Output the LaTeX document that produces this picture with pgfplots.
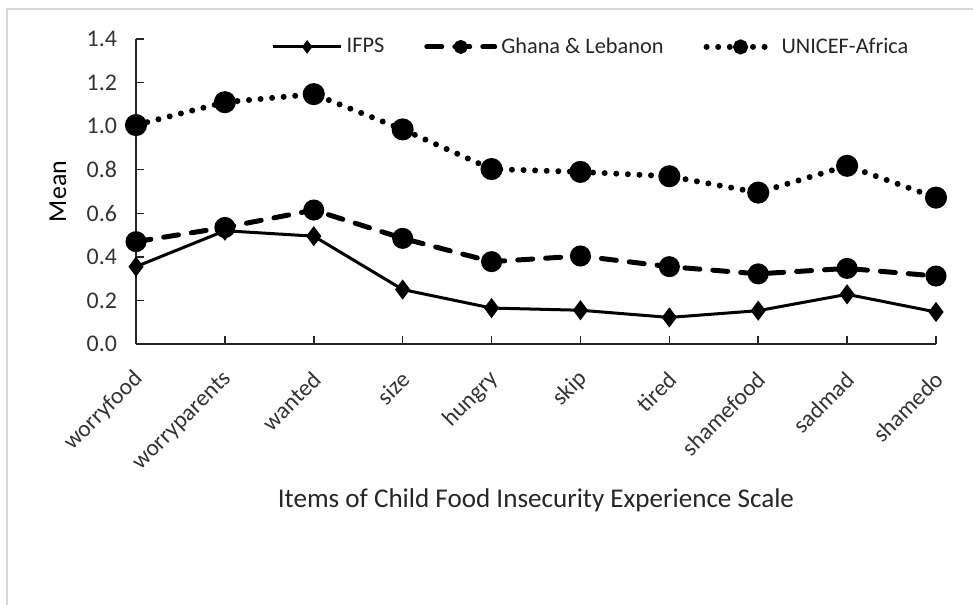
\documentclass[border=0pt]{standalone}
\usepackage{fontspec}
\setmainfont{Carlito}
\usepackage{pgfplots}
\pgfplotsset{compat=1.18}

\begin{document}
\begin{tikzpicture}
  \useasboundingbox (0,0) rectangle (486.5bp,-302.5bp);
  % light frame of the chart area
  \draw[gray!30, line width=0.8bp] (3.5bp,-302.5bp) -- (3.5bp,-4.5bp) -- (486.5bp,-4.5bp);
  \begin{axis}[
    at={(68bp,-172bp)}, anchor=south west,
    scale only axis, width=400bp, height=152.5bp,
    xmin=0, xmax=9, ymin=0, ymax=1.4,
    clip=false,
    axis lines=left,
    axis line style={-, line width=0.75bp, black!85},
    tick align=inside, major tick length=4bp,
    tick style={line width=0.75bp, black!85},
    xtick={0,1,2,3,4,5,6,7,8,9},
    xticklabels={worryfood,worryparents,wanted,size,hungry,skip,tired,shamefood,sadmad,shamedo},
    ytick={0,0.2,0.4,0.6,0.8,1.0,1.2,1.4},
    /pgf/number format/fixed, /pgf/number format/fixed zerofill,
    /pgf/number format/precision=1, /pgf/number format/assume math mode=true,
    ticklabel style={text=black!80},
    yticklabel style={font=\fontsize{12}{14}\selectfont, xshift=-6bp},
    xticklabel style={font=\fontsize{11.8}{14}\selectfont, rotate=45, anchor=east, xshift=-6.7bp, yshift=-12.2bp},
    ylabel={Mean},
    ylabel style={at={(axis description cs:-0.0975,0.5)}, anchor=center, font=\fontsize{13}{15}\selectfont, text=black},
    xlabel={Items of Child Food Insecurity Experience Scale},
    xlabel style={at={(axis description cs:0.5,-0.5115)}, anchor=center, font=\fontsize{13.6}{16}\selectfont, text=black!85},
    legend style={at={(axis description cs:0.57,0.974)}, anchor=center, draw=none, fill=none,
      legend columns=3, font=\fontsize{11.2}{13}\selectfont, text=black!85,
      /tikz/every even column/.append style={column sep=18bp}},
    legend image code/.code={%
      \draw[mark repeat=2, mark phase=2, #1, mark size=2.2bp]
        plot coordinates {(0bp,0bp) (17bp,0bp) (34bp,0bp)};},
  ]
    \addplot[black, line width=1.5bp, mark=diamond*, mark size=3.8bp, mark options={solid}]
      coordinates {(0,0.355) (1,0.52) (2,0.495) (3,0.25) (4,0.165) (5,0.155) (6,0.122) (7,0.153) (8,0.228) (9,0.147)};
    \addlegendentry{IFPS}
    \addplot[black, line width=2.5bp, line cap=round, dash pattern=on 7.5bp off 6.5bp, mark=*, mark size=4bp, mark options={solid}]
      coordinates {(0,0.47) (1,0.535) (2,0.615) (3,0.485) (4,0.378) (5,0.404) (6,0.355) (7,0.322) (8,0.347) (9,0.312)};
    \addlegendentry{Ghana \& Lebanon}
    \addplot[black, line width=3bp, line cap=round, dash pattern=on 0bp off 5.8bp, mark=*, mark size=4bp, mark options={solid}]
      coordinates {(0,1.005) (1,1.11) (2,1.147) (3,0.985) (4,0.803) (5,0.79) (6,0.77) (7,0.695) (8,0.818) (9,0.672)};
    \addlegendentry{UNICEF-Africa}
  \end{axis}
\end{tikzpicture}
\end{document}
